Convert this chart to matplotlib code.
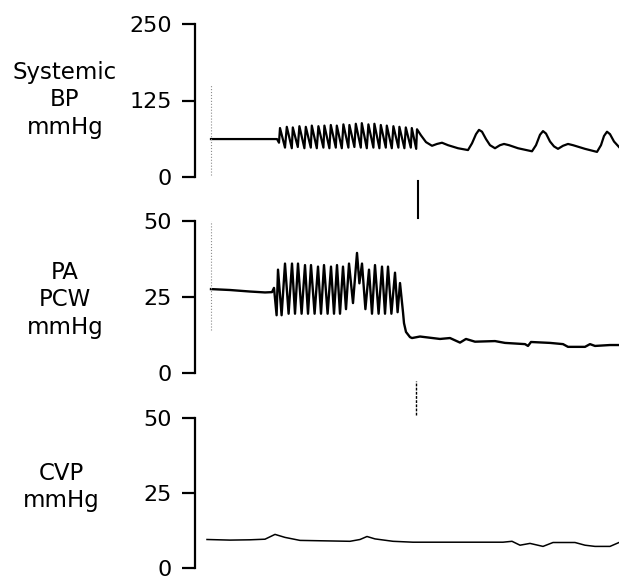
import numpy as np
import matplotlib
matplotlib.use('Agg')
import matplotlib.pyplot as plt

#--------------------------------------------------- traces (time in s, pressure in mmHg)
bp_base_t = [0.8, 2.0, 3.0, 4.1, 4.2]
bp_base_p = [62, 62, 62, 62, 56]

bp_peak_t = [4.25, 4.59, 4.89, 5.22, 5.54, 5.84, 6.17, 6.47, 6.79, 7.09, 7.42,
             7.72, 8.04, 8.34, 8.67, 8.97, 9.29, 9.59, 9.92, 10.22, 10.54, 10.84]
bp_peak_p = [80, 82, 81, 83, 82, 84, 83, 84, 85, 84, 86,
             85, 87, 88, 86, 87, 85, 84, 83, 82, 81, 80]
bp_trough_t = [4.50, 4.84, 5.14, 5.47, 5.79, 6.09, 6.42, 6.72, 7.04, 7.34, 7.67,
               7.97, 8.29, 8.59, 8.92, 9.22, 9.54, 9.84, 10.17, 10.47, 10.79, 11.06]
bp_trough_p = [48, 47, 49, 47, 48, 47, 48, 47, 48, 47, 48,
               49, 48, 47, 48, 47, 48, 47, 48, 47, 48, 46]

bp_post_t = [11.10, 11.30, 11.55, 11.85, 12.10, 12.35, 12.65, 13.15, 13.65, 13.85,
             14.05, 14.20, 14.35, 14.55, 14.75, 15.00, 15.25, 15.45, 15.70, 16.15,
             16.85, 17.05, 17.25, 17.40, 17.55, 17.75, 17.95, 18.15, 18.40, 18.65,
             18.90, 19.50, 20.10, 20.30, 20.45, 20.60, 20.75, 20.95, 21.20]
bp_post_p = [78, 68, 57, 51, 54, 56, 52, 47, 44, 55,
             70, 77, 74, 62, 52, 47, 52, 54, 52, 47,
             42, 52, 69, 75, 71, 58, 50, 46, 51, 54,
             52, 46, 41, 52, 67, 74, 70, 58, 49]

pcw_base_t = [0.8, 1.75, 2.75, 3.5, 3.85, 3.95, 4.08]
pcw_base_p = [27.6, 27.3, 26.8, 26.5, 26.6, 28.0, 19.0]

pcw_peak_t = [4.15, 4.50, 4.85, 5.15, 5.50, 5.80, 6.15, 6.45, 6.80, 7.10,
              7.40, 7.70, 8.10, 8.35, 8.70, 9.00, 9.35, 9.65, 10.00, 10.25]
pcw_peak_p = [34, 36, 36, 36, 35.5, 35.5, 35, 35.5, 35, 35.5,
              35, 36, 39.5, 36, 34, 35.5, 35, 35, 33, 29.6]
pcw_trough_t = [4.33, 4.68, 5.00, 5.33, 5.65, 5.98, 6.30, 6.63, 6.95, 7.25,
                7.55, 7.90, 8.22, 8.52, 8.85, 9.18, 9.50, 9.82, 10.13]
pcw_trough_p = [19, 19.5, 19.5, 19.5, 19.5, 19.5, 19.5, 19.5, 19.5, 19.5,
                21, 23, 29.5, 21, 19.5, 19.5, 19.5, 19.5, 20]

pcw_post_t = [10.40, 10.45, 10.55, 10.75, 10.85, 11.25, 12.25, 12.75, 13.25, 13.55,
              14.00, 15.00, 15.50, 16.50, 16.65, 16.80, 17.75, 18.40, 18.65, 19.50,
              19.75, 20.00, 20.75, 21.20]
pcw_post_p = [20, 16.4, 13.5, 11.8, 11.5, 12.0, 11.2, 11.5, 10.0, 11.2,
              10.3, 10.5, 9.9, 9.5, 8.9, 10.2, 9.9, 9.5, 8.6, 8.6,
              9.5, 8.9, 9.2, 9.2]

cvp_t = [0.60, 1.75, 2.75, 3.50, 4.00, 4.50, 5.25, 7.75, 8.25, 8.60, 9.00, 9.90,
         10.90, 15.40, 15.85, 16.25, 16.75, 17.40, 17.90, 19.00, 19.50, 20.00, 20.75, 21.20]
cvp_p = [9.5, 9.3, 9.4, 9.6, 11.2, 10.2, 9.2, 8.9, 9.5, 10.5, 9.7, 8.9,
         8.6, 8.6, 8.9, 7.6, 8.2, 7.2, 8.5, 8.5, 7.6, 7.2, 7.2, 8.5]

t_start = 0.8      # start of recording (faint dotted line)
t_event = 11.1     # event marker between panels

panels = [('Systemic\nBP\nmmHg', [0, 125, 250]),
          ('PA\nPCW\nmmHg', [0, 25, 50]),
          ('CVP\nmmHg', [0, 25, 50])]

#--------------------------------------------------- merge peaks and troughs into one trace
def interleave(pk_t, pk_p, tr_t, tr_p):
  t = []; p = []
  for i in range(len(pk_t)):
    t.append(pk_t[i]); p.append(pk_p[i])
    if i < len(tr_t):
      t.append(tr_t[i]); p.append(tr_p[i])
  return t, p

bp_t, bp_p = interleave(bp_peak_t, bp_peak_p, bp_trough_t, bp_trough_p)
bp_t = bp_base_t + bp_t + bp_post_t
bp_p = bp_base_p + bp_p + bp_post_p

pcw_t, pcw_p = interleave(pcw_peak_t, pcw_peak_p, pcw_trough_t, pcw_trough_p)
pcw_t = pcw_base_t + pcw_t + pcw_post_t
pcw_p = pcw_base_p + pcw_p + pcw_post_p

#--------------------------------------------------- figure
W, H = 619, 579
fig = plt.figure(figsize=(W/100, H/100), dpi=100)
plt.rcParams['font.family'] = ['DejaVu Sans']

# axes boxes in pixels: (top, bottom)
boxes = [(24, 177), (221, 373), (418, 568)]
label_y = [100, 300, 487]
label_x = [65, 65, 61]
x0 = 195

axs = []
for k, (lab, ticks) in enumerate(panels):
  top, bot = boxes[k]
  ax = fig.add_axes([x0/W, 1-bot/H, 1-x0/W, (bot-top)/H])
  ax.set_xlim(0, 21.2)
  ax.set_ylim(ticks[0], ticks[-1])
  ax.set_yticks(ticks)
  ax.set_xticks([])
  for s in ['top', 'right', 'bottom']:
    ax.spines[s].set_visible(False)
  ax.spines['left'].set_linewidth(1.6)
  ax.tick_params(axis='y', direction='out', length=9.5, width=1.6, pad=7, labelsize=16)
  ax.patch.set_alpha(0)
  fig.text(label_x[k]/W, 1-label_y[k]/H, lab, ha='center', va='center',
           fontsize=16.5, linespacing=1.25)
  axs.append(ax)

ax1, ax2, ax3 = axs
ax1.plot(bp_t, bp_p, '-', color='k', lw=1.6, solid_joinstyle='round')
ax2.plot(pcw_t, pcw_p, '-', color='k', lw=1.7, solid_joinstyle='round')
ax3.plot(cvp_t, cvp_p, '-', color='k', lw=1.1)

# faint dotted start line
ax1.plot([t_start, t_start], [-2, 150], ':', color='0.55', lw=0.8)
ax2.plot([t_start, t_start], [14, 50], ':', color='0.55', lw=0.8)

# event markers between panels
ax2.plot([t_event+0.05, t_event+0.05], [51, 63], '-', color='k', lw=1.5, clip_on=False)
ax3.plot([t_event-0.05, t_event-0.05], [51, 62.5], '--', color='k', lw=1.0,
         dashes=(2, 1), clip_on=False)

fig.savefig('out.png', dpi=100)
